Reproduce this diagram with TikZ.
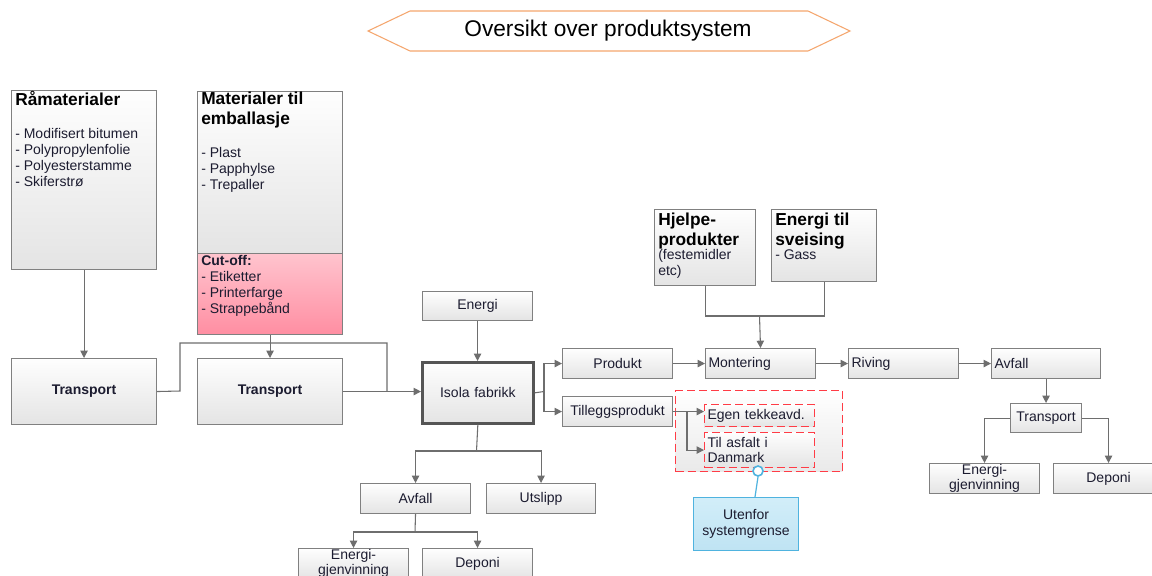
\documentclass[tikz,border=0pt]{standalone}
\usepackage{fontspec}
\setmainfont{Liberation Sans}
\usetikzlibrary{arrows.meta}
\newdimen\px \px=0.75pt
\definecolor{bord}{HTML}{808080}
\definecolor{lnc}{HTML}{6E6E6E}
\definecolor{gtop}{HTML}{FEFEFE}
\definecolor{gbot}{HTML}{E4E4E4}
\definecolor{pinkt}{HTML}{FFC4CE}
\definecolor{pinkb}{HTML}{FF8EA2}
\definecolor{redd}{HTML}{FF3C46}
\definecolor{bluet}{HTML}{D2EEF9}
\definecolor{blueb}{HTML}{BFE3F3}
\definecolor{bluel}{HTML}{4FB3DF}
\definecolor{orng}{HTML}{F5A66E}
\definecolor{txt}{HTML}{1C1C30}
\definecolor{isob}{HTML}{555555}
\newcommand\mybox[7][]{%
 \pgfmathsetlengthmacro\mybw{(#5-#3)*\px}%
 \pgfmathsetlengthmacro\mybh{(#6-#4)*\px}%
 \pgfmathsetlengthmacro\mytw{(#5-#3)*\px-4.5pt}%
 \node[box,anchor=north west,minimum width=\mybw,minimum height=\mybh,text width=\mytw,align=center,#1] (#2) at (#3,#4) {#7};}
\begin{document}
\begin{tikzpicture}[x=0.75pt,y=-0.75pt,
 box/.style={draw=bord,line width=0.8pt,top color=gtop,bottom color=gbot,inner xsep=2.25pt,inner ysep=0pt,font=\fontsize{10.5}{11.5}\selectfont,text=txt},
 wire/.style={draw=lnc,line width=0.8pt},
 arr/.style={wire,-{Triangle[length=5.5pt,width=5.5pt]}},
 hd/.style={font=\bfseries\fontsize{13}{14.5}\selectfont,text=black,align=left,inner sep=0pt,anchor=base west},
 lst/.style={font=\fontsize{10.5}{12}\selectfont,text=txt,align=left,inner sep=0pt,anchor=base west},
 reddash/.style={draw=redd,line width=0.8pt,dash pattern=on 6pt off 3pt},
]
\useasboundingbox (0,0) rectangle (1152,575);
\fill[white] (0,0) rectangle (1152,575);
\clip (0,0) rectangle (1152,575);

% title
\draw[orng,line width=0.8pt,fill=white] (368,31) -- (410,11) -- (808,11) -- (850,31) -- (808,51) -- (410,51) -- cycle;
\node[font=\fontsize{17}{20}\selectfont,text=black] (title) at (608,31) {Oversikt over produktsystem};

% big input boxes (multi-line text nodes are placed by their last baseline)
\mybox{raa}{11}{90}{156}{269}{}
\node[hd] (traa) at (15,105) {Råmaterialer};
\node[lst] (lraa) at (15,186) {- Modifisert bitumen\\- Polypropylenfolie\\- Polyesterstamme\\- Skiferstrø};

\mybox{mat}{197}{91}{342}{253}{}
\node[hd] (tmat) at (201,124) {Materialer til\\emballasje};
\node[lst] (lmat) at (201,189) {- Plast\\- Papphylse\\- Trepaller};
\mybox[top color=pinkt,bottom color=pinkb]{cut}{197}{253}{342}{334}{}
\node[lst] (lcut) at (201,313) {\textbf{Cut-off:}\\- Etiketter\\- Printerfarge\\- Strappebånd};

\mybox{hjelpe}{654}{209}{755}{285}{}
\node[hd] (thj) at (658,245) {Hjelpe-\\produkter};
\node[lst] (lhj) at (658,275) {(festemidler\\etc)};
\mybox{ensv}{771}{209}{876}{281}{}
\node[hd] (tens) at (775,245) {Energi til\\sveising};
\node[lst] (lens) at (775,259) {- Gass};

% transport + factory
\mybox[font=\bfseries\fontsize{10.5}{11.5}\selectfont]{tr1}{11}{358}{156}{424}{Transport}
\mybox[font=\bfseries\fontsize{10.5}{11.5}\selectfont]{tr2}{197}{358}{342}{424}{Transport}
\mybox{energi}{422}{291}{532}{320}{Energi}
\mybox[draw=isob,line width=2pt]{isola}{421}{361}{532}{422}{Isola fabrikk}

% product chain
\mybox{produkt}{562}{348}{672}{378}{Produkt}
\mybox{tillegg}{562}{396}{672}{426}{Tilleggsprodukt}
\mybox[align=left]{mont}{705}{348}{815}{378}{Montering}
\mybox[align=left]{riv}{848}{348}{958}{378}{Riving}
\mybox[align=left]{avf2}{991}{348}{1100}{378}{Avfall}
\mybox{tr3}{1010}{403}{1081}{432}{Transport}
\mybox{eg2}{929}{463}{1039}{493}{Energi-\\gjenvinning}
\mybox{dep2}{1053}{463}{1163}{493}{Deponi}

% outside system boundary
\mybox[reddash,top color=white,bottom color=gbot!80!white]{region}{675}{390}{842}{471}{}
\mybox[reddash,align=left]{egen}{704}{404}{814}{426}{Egen tekkeavd.}
\mybox[reddash,align=left]{tilasf}{704}{432}{814}{467}{Til asfalt i\\Danmark}
\mybox[draw=bluel,top color=bluet,bottom color=blueb]{utenfor}{693}{497}{798}{550}{Utenfor\\systemgrense}
\node[circle,draw=bluel,fill=white,line width=1.2pt,minimum size=7.5pt,inner sep=0pt] (circ) at (758,471) {};
\coordinate (ut) at (755,497);
\draw[bluel,line width=0.9pt] (circ.south) -- (ut);

% factory outputs
\mybox{avf1}{360}{483}{470}{513}{Avfall}
\mybox{utsl}{486}{483}{595}{513}{Utslipp}
\mybox{eg1}{298}{548}{408}{578}{Energi-\\gjenvinning}
\mybox{dep1}{422}{548}{532}{578}{Deponi}

% connectors
\draw[arr] (raa.south) -- (tr1.north);
\draw[arr] (cut.south) -- (tr2.north);
\draw[wire] (tr1.east) -- (180,391) -- (180,343) -- (387,343) -- (387,391);
\draw[arr] (tr2.east) -- (isola.west |- tr2.east);
\draw[arr] (energi.south) -- (energi.south |- isola.north);
\coordinate (jr) at (544,391.5);
\draw[wire] (isola.east) -- (jr);
\draw[arr] (jr) |- (produkt.west);
\draw[arr] (jr) |- (tillegg.west);
\draw[arr] (produkt.east) -- (mont.west);
\draw[arr] (mont.east) -- (riv.west);
\draw[arr] (riv.east) -- (avf2.west);
\coordinate (jh) at (759.5,316);
\draw[wire] (hjelpe.south) |- (jh);
\draw[wire] (ensv.south) |- (jh);
\draw[arr] (jh) -- (mont.north);
\draw[arr] (avf2.south) -- (tr3.north);
\draw[arr] (tr3.west) -| (eg2.north);
\draw[arr] (tr3.east) -| (dep2.north);
\coordinate (jt) at (687,411);
\draw[arr] (tillegg.east) -- (egen.west |- tillegg.east);
\draw[arr] (jt) |- (tilasf.west);
\coordinate (jb) at (476.5,451);
\draw[wire] (isola.south) -- (jb);
\draw[arr] (jb) -| (avf1.north);
\draw[arr] (jb) -| (utsl.north);
\coordinate (ja) at (415,532);
\draw[wire] (avf1.south) -- (ja);
\draw[arr] (ja) -| (eg1.north);
\draw[arr] (ja) -| (dep1.north);
\end{tikzpicture}
\end{document}
